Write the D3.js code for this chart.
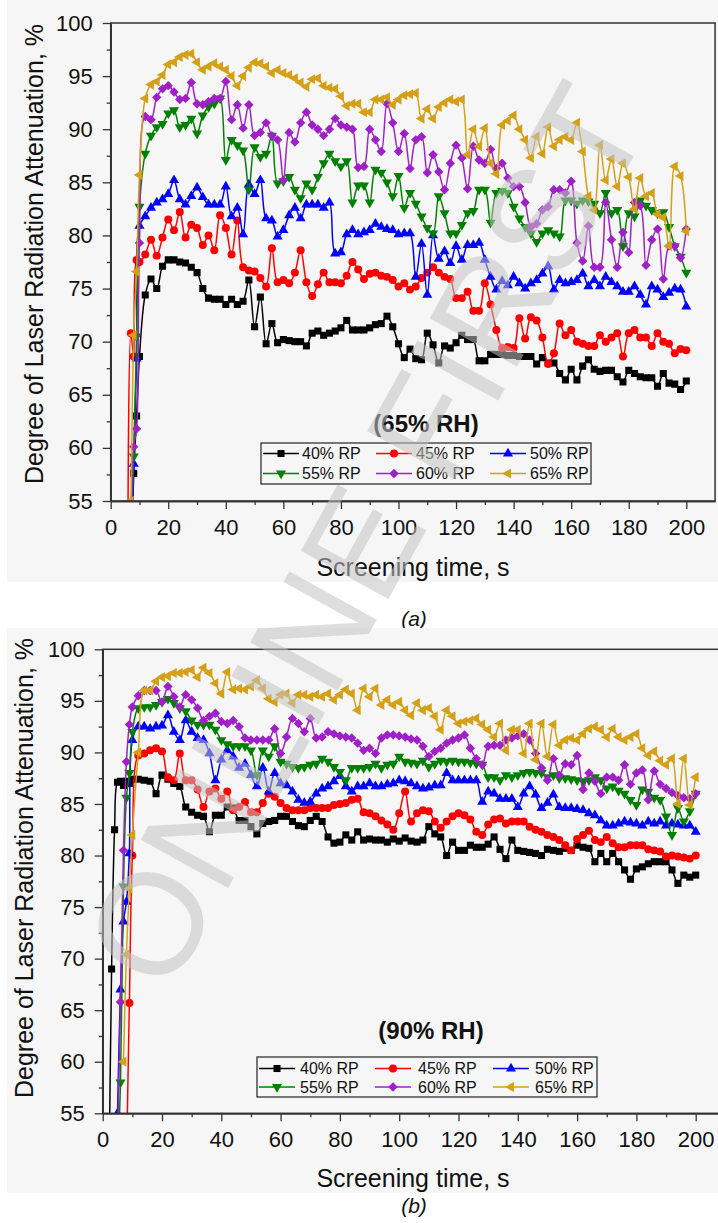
<!DOCTYPE html>
<html>
<head>
<meta charset="utf-8">
<script src="https://cdn.jsdelivr.net/npm/d3@7"></script>
<style>
body { margin: 0; background: #fff; }
svg { display: block; font-family: "Liberation Sans", Arial, sans-serif; }
</style>
</head>
<body>
<div id="my_dataviz"></div>
<script>

// ---- panel (a) : 65% RH ----
var timesA = [6,7,8,9,10,12,14,16,18,20,22,24,26,28,30,32,34,36,38,40,42,44,46,48,50,52,54,56,58,60,62,64,66,68,70,72,74,76,78,80,82,84,86,88,90,92,94,96,98,100,102,104,106,108,110,112,114,116,118,120,122,124,126,128,130,132,134,136,138,140,142,144,146,148,150,152,154,156,158,160,162,164,166,168,170,172,174,176,178,180,182,184,186,188,190,192,194,196,198,200]

var rp40a = [40,48,57.6,63,68.6,
  74.4,75.9,75.0,77.1,77.7,77.7,77.5,77.4,77.0,76.5,
  75.0,74.1,74.0,74.0,73.5,74.0,73.5,73.8,75.8,71.4,
  74.2,69.8,71.7,69.9,70.2,70.1,70.0,70.0,69.6,70.8,
  71.0,70.6,70.8,71.0,71.3,72.0,71.1,71.1,71.1,71.3,
  71.6,71.7,72.4,71.4,69.8,68.5,69.3,68.4,68.3,70.8,
  69.7,68.0,69.6,69.4,69.9,70.6,70.2,70.2,68.2,68.2,
  68.8,68.8,68.8,68.7,68.7,68.6,68.6,68.6,67.9,68.5,
  68.0,68.0,67.0,66.4,67.4,66.4,67.7,68.3,67.4,67.2,
  67.3,67.3,66.7,66.2,67.3,67.0,66.7,66.6,66.6,65.8,
  67.0,66.1,66.0,65.5,66.3]
var rp45a = [52,70.8,68.6,77.7,77.5,
  78.2,79.6,78.1,79.8,81.5,80.5,82.2,79.8,81.0,80.7,
  79.1,80.0,78.6,81.9,80.7,78.2,81.4,77.0,76.7,76.6,
  76.0,75.2,78.8,75.6,75.8,75.5,76.5,78.6,75.6,74.3,
  75.4,76.5,75.6,75.6,75.5,76.2,77.5,76.8,75.9,76.4,
  76.5,76.2,76.1,75.8,75.2,75.5,74.9,75.2,76.0,76.5,
  77.0,76.5,76.1,75.9,74.1,74.1,74.7,72.9,72.9,75.5,
  73.5,71.1,69.4,69.5,69.4,72.2,70.3,72.3,72.0,70.4,
  67.9,68.9,71.7,70.6,71.1,70.0,69.8,69.6,69.6,70.6,
  70.0,70.4,70.8,68.6,70.8,71.1,70.4,70.4,69.6,70.8,
  70.0,69.8,68.9,69.3,69.2]
var rp50a = [45,50,58.5,68.4,80.9,
  81.8,82.6,83.1,83.4,83.9,85.2,83.4,82.9,83.7,84.5,
  83.6,82.9,82.9,82.9,84.6,81.8,82.6,80.1,84.8,83.9,
  85.2,81.6,81.4,79.9,80.5,81.9,82.6,81.6,82.9,82.9,
  82.9,82.6,83.1,78.3,78.4,80.1,80.5,80.1,80.3,80.5,
  81.1,80.8,80.6,80.5,80.1,80.2,80.2,76.1,79.2,74.4,
  80.0,77.8,78.5,77.4,79.0,77.7,79.1,79.1,79.3,77.7,
  76.1,74.9,75.7,75.3,76.1,75.5,75.0,75.5,75.8,76.4,
  77.1,74.9,75.8,75.5,75.6,75.8,76.4,75.2,75.8,75.2,
  76.1,75.6,75.2,74.7,74.7,75.2,74.4,73.5,75.2,74.9,
  74.2,74.6,75.0,74.9,73.3]
var rp55a = [45,52,59.2,70.5,82.7,
  87.7,89.4,90.2,90.5,91.5,91.8,90.2,90.4,91.0,89.6,
  91.3,92.1,92.4,92.9,87.1,89.0,88.5,88.0,84.3,88.3,
  87.4,87.7,89.4,84.9,85.1,85.5,84.3,83.5,84.9,84.3,
  85.5,86.8,87.7,87.0,86.5,87.0,83.1,84.7,84.7,83.1,
  86.2,85.9,85.0,83.7,85.6,82.6,84.0,83.0,81.8,80.7,
  80.2,83.7,82.1,80.2,80.2,81.0,82.1,82.3,84.3,84.3,
  81.2,84.0,84.2,84.0,82.7,81.6,80.8,80.2,79.4,80.2,
  80.5,80.2,79.9,83.3,83.3,83.0,83.3,83.2,83.0,82.1,
  84.0,82.1,82.4,79.0,82.1,81.8,83.3,82.8,82.4,82.1,
  82.2,80.8,79.0,78.0,76.5]
var rp60a = [45,50,60.1,61.8,79.3,
  91.2,90.9,93.0,93.8,94.1,93.5,92.8,92.9,94.4,92.4,
  92.3,92.6,92.9,92.9,94.5,90.9,92.3,90.1,92.3,89.4,
  89.7,90.6,89.4,89.0,85.2,89.7,88.8,90.6,91.6,90.4,
  90.0,89.4,90.0,91.0,90.4,90.2,90.0,86.4,86.5,90.0,
  89.0,87.9,92.4,90.6,87.9,89.6,86.3,89.0,89.3,85.9,
  87.6,86.0,84.3,86.8,88.5,87.3,84.4,88.4,87.1,86.8,
  88.1,86.3,86.8,85.4,84.6,84.6,83.1,80.8,81.1,82.4,
  82.7,84.3,84.3,84.0,85.1,79.3,77.6,80.9,77.0,77.0,
  83.1,79.6,77.0,80.3,78.4,83.1,82.8,77.2,79.6,80.6,
  75.9,79.0,79.0,77.9,80.6]
var rp65a = [45,55,70.6,76.6,85.7,
  92.9,94.2,94.5,95.1,96.1,96.3,96.8,97.0,97.1,96.3,
  95.6,95.9,96.2,95.9,95.6,95.0,94.1,95.0,95.8,96.3,
  96.2,95.9,95.3,95.6,95.3,95.1,94.8,94.4,94.0,94.7,
  94.8,94.1,93.9,93.8,93.1,92.2,92.4,92.4,91.6,91.6,
  92.8,92.8,93.0,92.3,92.8,93.2,93.3,93.4,91.0,91.9,
  91.0,92.1,92.5,92.8,92.6,92.8,87.6,90.0,88.4,90.1,
  86.8,85.8,90.4,90.8,91.3,90.0,89.0,87.3,89.3,87.7,
  90.2,88.4,89.0,89.3,89.0,90.6,87.9,83.7,82.4,88.5,
  85.2,87.2,84.6,86.8,85.5,82.5,85.4,83.7,84.0,82.0,
  81.7,79.0,86.5,85.6,80.4]

// ---- panel (b) : 90% RH ----
var timesB = [2,3,4,5,6,7,8,9,10,12,14,16,18,20,22,24,26,28,30,32,34,36,38,40,42,44,46,48,50,52,54,56,58,60,62,64,66,68,70,72,74,76,78,80,82,84,86,88,90,92,94,96,98,100,102,104,106,108,110,112,114,116,118,120,122,124,126,128,130,132,134,136,138,140,142,144,146,148,150,152,154,156,158,160,162,164,166,168,170,172,174,176,178,180,182,184,186,188,190,192,194,196,198,200]

var rp40b = [45,69.0,82.5,87.1,87.2,86.8,87.2,87.0,
  87.4,87.4,87.3,87.2,86.0,87.8,87.4,87.0,86.7,84.7,
  84.2,83.9,83.8,82.3,83.9,83.9,84.7,84.6,83.4,83.4,
  82.8,82.1,83.1,83.3,83.4,83.8,83.8,83.3,82.9,82.8,
  83.4,83.8,83.3,81.8,81.2,81.3,82.0,81.5,82.3,81.5,
  81.6,81.5,81.5,81.3,81.6,81.4,81.7,81.4,81.3,81.5,
  82.8,82.1,81.8,80.0,81.3,80.5,80.5,81.0,80.8,80.8,
  81.1,81.8,80.6,79.7,81.5,80.5,80.4,80.3,80.2,80.0,
  80.6,80.5,80.4,80.7,80.5,81.0,80.8,80.7,79.4,80.2,
  79.4,80.2,79.4,78.6,77.7,78.7,78.9,79.2,79.4,79.4,
  79.4,78.6,77.3,78.1,77.9,78.1]
var rp45b = [null,null,null,null,null,null,50,65.7,
  80.0,89.7,89.9,90.2,90.4,90.1,87.6,87.3,89.9,87.3,
  87.3,86.4,84.7,86.2,86.5,85.5,86.2,84.4,84.7,85.2,
  84.2,84.2,85.1,86.0,85.7,85.1,84.6,84.4,84.4,84.4,
  84.6,84.6,84.6,84.6,84.9,85.0,85.1,85.4,85.5,84.2,
  84.1,83.8,83.4,83.0,82.5,84.1,86.2,83.3,84.1,84.4,
  84.3,83.3,82.7,83.3,83.8,84.1,83.9,83.5,82.3,82.0,
  83.0,83.5,83.6,83.1,83.3,83.3,83.3,82.8,82.5,82.3,
  82.0,81.8,81.5,81.0,80.5,81.6,82.0,82.4,81.5,81.3,
  81.8,81.2,80.8,80.8,81.0,81.0,81.0,80.6,80.5,80.4,
  79.9,80.0,79.9,79.8,79.7,80.0]
var rp50b = [null,null,null,55,67.0,73.6,75.5,80.2,
  91.2,92.5,92.5,92.3,92.5,92.6,93.6,92.0,91.2,93.1,
  92.0,91.4,91.2,89.9,87.3,89.3,90.2,89.6,88.5,88.9,
  87.8,86.7,88.5,86.2,88.0,87.0,86.8,86.2,85.4,85.1,
  85.2,86.0,86.5,86.7,87.2,87.7,86.7,86.2,86.7,86.7,
  87.0,86.7,86.7,86.9,87.0,87.3,87.2,87.0,86.7,86.5,
  86.6,86.8,86.8,88.0,87.3,87.3,87.3,87.3,87.3,85.2,
  86.2,86.0,85.5,85.5,85.5,84.7,86.0,86.7,85.9,84.6,
  85.1,85.9,84.7,84.6,84.6,84.5,84.4,84.1,83.9,83.4,
  82.9,82.9,83.1,83.3,83.2,83.1,82.9,83.3,83.1,83.3,
  82.9,83.1,83.0,82.9,82.9,82.3]
var rp55b = [null,null,null,50,58.0,77.0,85.6,88.0,
  92.0,94.3,94.4,94.4,94.6,94.9,95.2,94.8,94.3,94.0,
  93.1,92.7,92.7,92.7,92.2,91.2,90.8,90.6,90.6,90.6,
  90.2,87.8,90.2,89.6,90.6,89.1,88.9,88.6,88.5,88.6,
  88.8,88.9,89.4,89.1,88.6,88.1,87.3,88.5,88.5,88.5,
  88.6,88.9,88.5,88.8,88.9,89.6,89.1,89.0,88.9,89.2,
  88.6,88.9,89.2,89.1,89.2,89.1,89.1,89.0,88.9,88.8,
  87.6,87.6,87.3,87.8,87.6,87.8,88.0,88.1,88.0,88.0,
  87.6,87.8,87.5,87.5,87.4,87.3,87.2,87.3,87.6,87.3,
  86.5,86.7,86.3,86.0,85.4,84.9,86.4,86.2,85.6,85.4,
  83.8,82.0,84.6,83.3,84.3,86.0]
var rp60b = [null,null,null,52,65.8,80.5,89.1,92.7,
  94.4,95.5,96.0,96.0,96.0,94.9,96.4,95.4,94.4,95.6,
  95.1,94.3,93.1,93.5,93.8,93.0,92.8,93.1,92.5,91.4,
  91.2,91.2,91.2,91.2,92.3,89.9,91.5,93.3,92.8,92.0,
  93.3,91.4,91.5,92.0,91.8,91.6,91.5,91.4,90.9,90.2,
  90.4,89.9,91.4,91.7,91.7,91.6,91.5,91.3,91.2,90.6,
  89.6,90.1,90.4,90.9,91.2,91.4,91.7,90.4,89.4,88.8,
  90.6,90.7,90.7,91.2,91.4,91.6,91.8,91.2,89.9,88.5,
  87.3,89.4,87.8,88.9,88.8,89.7,86.4,88.0,87.2,86.0,
  87.6,87.6,87.3,88.8,86.9,88.0,88.3,85.4,88.2,86.9,
  86.5,86.1,85.8,85.6,85.5,86.0]
var rp65b = [null,null,null,null,null,60,70.4,76.8,
  82.0,90.0,96.0,96.0,96.9,97.3,97.4,97.7,97.7,97.8,
  98.0,97.3,98.2,97.7,96.7,95.7,97.8,96.1,96.2,96.1,
  96.4,97.0,96.2,95.2,94.9,95.6,95.7,94.8,95.6,95.6,
  95.4,95.6,95.4,95.7,95.1,95.6,96.1,95.7,94.1,96.2,
  95.4,96.2,94.6,95.1,94.6,94.9,94.1,93.6,94.8,94.1,
  94.3,93.5,92.2,94.1,93.5,92.8,93.0,93.1,93.3,92.7,
  92.2,91.5,92.8,90.2,92.2,92.2,89.9,92.8,89.3,92.8,
  89.6,92.7,90.7,91.2,91.4,91.2,91.8,92.3,92.5,92.2,
  91.5,92.3,91.5,91.2,91.5,91.8,90.4,89.7,90.1,89.2,
  88.8,89.4,85.0,89.4,84.9,87.6]

var seriesNames = ["40% RP", "45% RP", "50% RP", "55% RP", "60% RP", "65% RP"]
var seriesColors = ["#000000", "#ff0000", "#0000ff", "#008000", "#a020c8", "#d4a017"]
var xMajor = [0, 20, 40, 60, 80, 100, 120, 140, 160, 180, 200]
var yMajor = [55, 60, 65, 70, 75, 80, 85, 90, 95, 100]

// marker shapes: type + rotation
var markers = [
  {type: d3.symbolSquare, size: 50, rot: 0},
  {type: d3.symbolCircle, size: 50, rot: 0},
  {type: d3.symbolTriangle, size: 44, rot: 0},
  {type: d3.symbolTriangle, size: 44, rot: 180},
  {type: d3.symbolSquare, size: 44, rot: 45},
  {type: d3.symbolTriangle, size: 44, rot: -90}
]

var width = 718, height = 1223

var svg = d3.select("#my_dataviz")
  .append("svg")
    .attr("width", width)
    .attr("height", height)

var panels = [
  {times: timesA, series: [rp40a, rp45a, rp50a, rp55a, rp60a, rp65a],
   bg: [7, 0, 711, 582], x0: 110.7, ppu: 2.878, y0: 23, y1: 501,
   tag: "(65% RH)", tagX: 426, tagY: 432,
   leg: {x: 261, y: 443, w: 330, h: 41, rows: [453.5, 473.5], lineX: [263, 376, 490], textX: [302, 416, 530]},
   yTitleX: 43, yTitleY: 254, xTitleY: 576, sub: "(a)", subY: 626},
  {times: timesB, series: [rp40b, rp45b, rp50b, rp55b, rp60b, rp65b],
   bg: [7, 628, 711, 565], x0: 102.7, ppu: 2.965, y0: 649.3, y1: 1113.3,
   tag: "(90% RH)", tagX: 431, tagY: 1039,
   leg: {x: 257, y: 1057, w: 340, h: 40, rows: [1068.5, 1087], lineX: [259, 375, 493], textX: [300, 418, 535]},
   yTitleX: 33, yTitleY: 868, xTitleY: 1187, sub: "(b)", subY: 1213}
]

panels.forEach(function(p, pi) {
  var x = d3.scaleLinear().domain([0, 210]).range([p.x0, p.x0 + 210 * p.ppu])
  var y = d3.scaleLinear().domain([55, 100]).range([p.y1, p.y0])

  // light page background behind the figure
  svg.append("rect")
    .attr("x", p.bg[0]).attr("y", p.bg[1])
    .attr("width", p.bg[2]).attr("height", p.bg[3])
    .attr("fill", "#f6f6f6")

  var clipId = "clip" + pi
  svg.append("clipPath").attr("id", clipId)
    .append("rect")
      .attr("x", x(0)).attr("y", y(100))
      .attr("width", x(210) - x(0)).attr("height", y(55) - y(100))

  var plot = svg.append("g").attr("clip-path", "url(#" + clipId + ")")

  p.series.forEach(function(vals, si) {
    var pts = []
    for (var i = 0; i < p.times.length; i++) {
      if (vals[i] != null) pts.push([p.times[i], vals[i]])
    }
    var line = d3.line()
      .x(function(d) { return x(d[0]) })
      .y(function(d) { return y(d[1]) })
      .curve(d3.curveCatmullRom.alpha(0.5))
    plot.append("path")
      .attr("d", line(pts))
      .attr("fill", "none")
      .attr("stroke", seriesColors[si])
      .attr("stroke-width", 1.5)
    var m = markers[si]
    var sym = d3.symbol().type(m.type).size(m.size)
    plot.selectAll("mymarks")
      .data(pts)
      .enter()
      .append("path")
        .attr("d", sym)
        .attr("transform", function(d) { return "translate(" + x(d[0]) + "," + y(d[1]) + ") rotate(" + m.rot + ")" })
        .attr("fill", seriesColors[si])
  })

  // frame
  svg.append("rect")
    .attr("x", x(0)).attr("y", y(100))
    .attr("width", x(210) - x(0)).attr("height", y(55) - y(100))
    .attr("fill", "none")
    .attr("stroke", "#333")
    .attr("stroke-width", 1.5)

  // axes: major with labels, minor without
  var gx = svg.append("g")
    .attr("transform", "translate(0," + y(55) + ")")
    .call(d3.axisBottom(x).tickValues(xMajor).tickSize(8).tickSizeOuter(0).tickPadding(10))
  gx.append("g")
    .call(d3.axisBottom(x).tickValues(d3.range(10, 200, 20)).tickSize(4).tickSizeOuter(0).tickFormat(""))
  var gy = svg.append("g")
    .attr("transform", "translate(" + x(0) + ",0)")
    .call(d3.axisLeft(y).tickValues(yMajor).tickSize(8).tickSizeOuter(0).tickPadding(10))
  gy.append("g")
    .call(d3.axisLeft(y).tickValues(d3.range(57.5, 100, 5)).tickSize(4).tickSizeOuter(0).tickFormat(""))
  svg.selectAll(".domain").attr("stroke", "#333").attr("stroke-width", 1.5)
  svg.selectAll(".tick line").attr("stroke", "#333").attr("stroke-width", 1.3)
  gx.selectAll("text").style("font-size", "22px").attr("fill", "#111").style("font-family", "Liberation Sans, Arial, sans-serif")
  gy.selectAll("text").style("font-size", "22px").attr("fill", "#111").style("font-family", "Liberation Sans, Arial, sans-serif")

  // titles
  svg.append("text")
    .attr("transform", "translate(" + p.yTitleX + "," + p.yTitleY + ") rotate(-90)")
    .attr("text-anchor", "middle")
    .style("font-size", "25px")
    .attr("fill", "#111")
    .text("Degree of Laser Radiation Attenuation, %")
  svg.append("text")
    .attr("x", 413).attr("y", p.xTitleY)
    .attr("text-anchor", "middle")
    .style("font-size", "25px")
    .attr("fill", "#111")
    .text("Screening time, s")
  svg.append("text")
    .attr("x", p.tagX).attr("y", p.tagY)
    .attr("text-anchor", "middle")
    .style("font-size", "24px")
    .style("font-weight", "bold")
    .attr("fill", "#111")
    .text(p.tag)
  svg.append("text")
    .attr("x", 414).attr("y", p.subY)
    .attr("text-anchor", "middle")
    .style("font-size", "21px")
    .style("font-style", "italic")
    .attr("fill", "#111")
    .text(p.sub)

  // legend
  var L = p.leg
  svg.append("rect")
    .attr("x", L.x).attr("y", L.y).attr("width", L.w).attr("height", L.h)
    .attr("fill", "none").attr("stroke", "#222").attr("stroke-width", 1.2)
  seriesNames.forEach(function(name, si) {
    var col = si % 3, row = Math.floor(si / 3)
    var lx = L.lineX[col], ly = L.rows[row]
    svg.append("line")
      .attr("x1", lx).attr("x2", lx + 36).attr("y1", ly).attr("y2", ly)
      .attr("stroke", seriesColors[si]).attr("stroke-width", 1.5)
    var m = markers[si]
    svg.append("path")
      .attr("d", d3.symbol().type(m.type).size(m.size)())
      .attr("transform", "translate(" + (lx + 18) + "," + ly + ") rotate(" + m.rot + ")")
      .attr("fill", seriesColors[si])
    svg.append("text")
      .attr("x", L.textX[col]).attr("y", ly + 5.5)
      .style("font-size", "16px")
      .attr("fill", "#111")
      .text(name)
  })
})

// watermark over the figure
svg.append("text")
  .attr("transform", "translate(366,536) rotate(-61)")
  .attr("text-anchor", "middle")
  .attr("dominant-baseline", "central")
  .style("font-size", "145px")
  .attr("fill", "#c4c4c4")
  .attr("opacity", 0.55)
  .text("ONLINE FIRST")

</script>
</body>
</html>
